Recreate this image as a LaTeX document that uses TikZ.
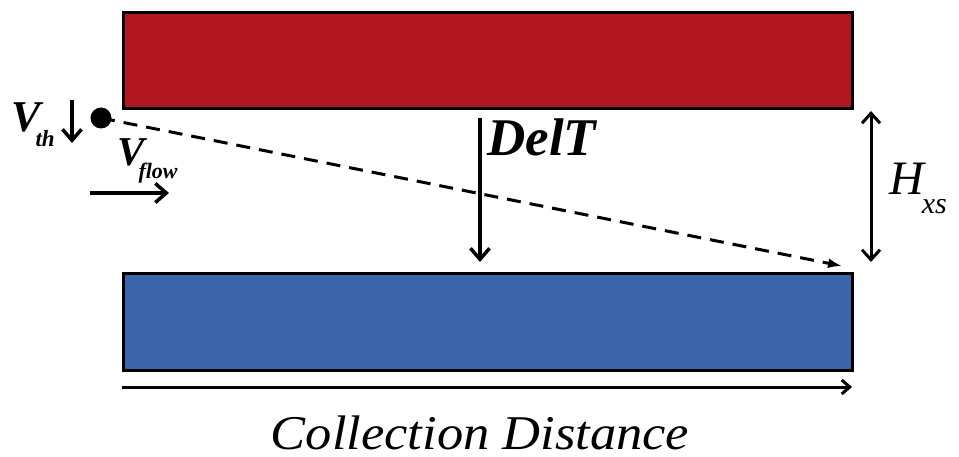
\documentclass[tikz,border=0pt]{standalone}
\usepackage{fontspec}
\setmainfont{Liberation Serif}
\usetikzlibrary{arrows.meta}
\definecolor{hotred}{RGB}{178,22,32}
\definecolor{coldblue}{RGB}{60,100,170}
\tikzset{
  plate/.style={draw=black, line width=3pt},
  barb/.style={line width=3.5pt, -{Straight Barb[length=11pt,width=19pt,line width=3.5pt]}},
  dbarb/.style={line width=3pt, {Straight Barb[length=10pt,width=18pt,line width=3pt]}-{Straight Barb[length=10pt,width=18pt,line width=3pt]}},
  lbl/.style={inner sep=0pt, font=\itshape}
}
\begin{document}
\begin{tikzpicture}[x=1pt,y=-1pt]
\useasboundingbox (0,0) rectangle (959,457);
\node[plate, fill=hotred, minimum width=729pt, minimum height=96pt, inner sep=0pt, anchor=north west] (hot) at (122,11) {};
\node[plate, fill=coldblue, minimum width=729pt, minimum height=97pt, inner sep=0pt, anchor=north west] (cold) at (122,272) {};
\node[circle, fill=black, minimum size=21pt, inner sep=0pt] (p) at (101,118) {};
\coordinate (pend) at (842,266);
\draw[line width=3pt, dash pattern=on 14pt off 9pt, -{Latex[length=14pt,width=10pt]}] (p.center) -- (pend);
% DelT
\coordinate (d1) at (480,118);
\coordinate (d2) at (480,262);
\draw[barb] (d1) -- (d2);
\node[lbl, font=\bfseries\itshape\fontsize{53}{53}\selectfont, anchor=base west] (delt) at (487,156) {DelT};
% Hxs
\coordinate (h1) at (871,111);
\coordinate (h2) at (871,262);
\draw[dbarb] (h1) -- (h2);
\node[lbl, anchor=base west] (hxs) at (889,195) {\fontsize{48}{48}\selectfont H\raisebox{-19pt}{\fontsize{30}{30}\selectfont\kern-2pt xs}};
% Vth
\coordinate (t1) at (72,100);
\coordinate (t2) at (72,143);
\draw[barb] (t1) -- (t2);
\node[lbl, anchor=base west] (vth) at (11,132) {\bfseries\fontsize{44}{44}\selectfont V\raisebox{-15pt}{\fontsize{23}{23}\selectfont\kern-5pt th}};
% Vflow
\coordinate (f1) at (90,193);
\coordinate (f2) at (169,193);
\draw[barb] (f1) -- (f2);
\node[lbl, anchor=base west] (vflow) at (117,166) {\bfseries\fontsize{41}{41}\selectfont V\raisebox{-13pt}{\fontsize{22}{22}\selectfont\kern-6pt flow}};
% Collection distance
\coordinate (c1) at (122,387);
\coordinate (c2) at (852,387);
\draw[line width=3pt, -{Straight Barb[length=8pt,width=14pt,line width=3pt]}] (c1) -- (c2);
\node[lbl, anchor=base] (cd) at (480,449) {\scalebox{1.05}[0.97]{\fontsize{50}{50}\selectfont Collection Distance}};
\end{tikzpicture}
\end{document}
